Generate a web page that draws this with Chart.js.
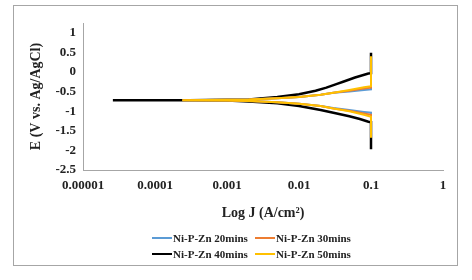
<!DOCTYPE html>
<html>
<head>
<meta charset="utf-8">
<script src="https://cdn.jsdelivr.net/npm/chart.js@4.4.0/dist/chart.umd.min.js"></script>
<style>
	body { margin: 0; background: #fff; }
	#wrap { position: relative; width: 472px; height: 280px; }
	#frame { position: absolute; left: 13px; top: 5px; width: 443px; height: 259px; border: 1px solid #a6a6a6; }
	canvas { position: absolute; left: 0; top: 0; }
	#legend { position: absolute; left: 152px; top: 232px; width: 230px; font: bold 11px "Liberation Serif", serif; color: #222; }
	.item { position: absolute; display: flex; align-items: center; white-space: nowrap; }
	.swatch { width: 20px; height: 2px; margin-right: 1px; }
</style>
</head>
<body>
<div id="wrap">
	<div id="frame"></div>
	<canvas id="chart" width="472" height="280"></canvas>
	<div id="legend"></div>
</div>
<script>
// series names and colours
const seriesNames = ['Ni-P-Zn 20mins', 'Ni-P-Zn 30mins', 'Ni-P-Zn 40mins', 'Ni-P-Zn 50mins'];
const seriesColors = ['#5b9bd5', '#ed7d31', '#000000', '#ffc000'];

// current density J (A/cm2) and potential E (V), in scan order
const j20 = [0.1, 0.1, 0.08, 0.05, 0.03, 0.02, 0.01, 0.005, 0.002, 0.001, 0.00024, 0.001, 0.002, 0.005, 0.01, 0.02, 0.03, 0.05, 0.08, 0.1, 0.1];
const e20 = [-1.6, -1.04, -1.02, -0.97, -0.92, -0.87, -0.81, -0.77, -0.74, -0.73, -0.72, -0.71, -0.7, -0.67, -0.64, -0.58, -0.53, -0.5, -0.46, -0.44, 0.3];

const j30 = [0.1, 0.1, 0.08, 0.05, 0.03, 0.02, 0.01, 0.005, 0.002, 0.001, 0.00024, 0.001, 0.002, 0.005, 0.01, 0.02, 0.03, 0.05, 0.08, 0.1, 0.1];
const e30 = [-1.63, -1.09, -1.06, -0.99, -0.93, -0.87, -0.81, -0.77, -0.74, -0.73, -0.72, -0.71, -0.7, -0.67, -0.64, -0.58, -0.53, -0.48, -0.42, -0.4, 0.35];

const j40 = [0.1, 0.1, 0.092, 0.07, 0.05, 0.03, 0.02, 0.01, 0.005, 0.002, 0.001, 0.0003, 0.000026, 0.0003, 0.001, 0.002, 0.005, 0.01, 0.017, 0.024, 0.033, 0.041, 0.06, 0.092, 0.1, 0.1];
const e40 = [-1.97, -1.28, -1.27, -1.2, -1.13, -1.04, -0.97, -0.87, -0.8, -0.75, -0.73, -0.72, -0.72, -0.72, -0.71, -0.7, -0.64, -0.57, -0.48, -0.4, -0.31, -0.25, -0.14, -0.04, -0.03, 0.49];

const j50 = [0.1, 0.1, 0.08, 0.05, 0.03, 0.02, 0.01, 0.005, 0.002, 0.001, 0.00024, 0.001, 0.002, 0.005, 0.01, 0.02, 0.03, 0.05, 0.08, 0.1, 0.1];
const e50 = [-1.68, -1.14, -1.09, -1.0, -0.93, -0.87, -0.81, -0.77, -0.74, -0.73, -0.72, -0.71, -0.7, -0.67, -0.64, -0.58, -0.53, -0.46, -0.39, -0.36, 0.4];

// axis ticks
const xTicks = [0.00001, 0.0001, 0.001, 0.01, 0.1, 1];
const xTickLabels = ['0.00001', '0.0001', '0.001', '0.01', '0.1', '1'];
const yTicks = [-2.5, -2, -1.5, -1, -0.5, 0, 0.5, 1];

const jSeries = [j20, j30, j40, j50];
const eSeries = [e20, e30, e40, e50];
// drawing order: yellow on top, black underneath
const drawOrder = [2, 1, 3, 0];

const datasets = seriesNames.map((name, i) => ({
	label: name,
	data: jSeries[i].map((j, k) => ({ x: j, y: eSeries[i][k] })),
	borderColor: seriesColors[i],
	backgroundColor: seriesColors[i],
	borderWidth: i === 2 ? 2.5 : 2,
	pointRadius: 0,
	showLine: true,
	tension: 0,
	order: drawOrder[i]
}));

const tickFont = { family: '"Liberation Serif", serif', size: 13, weight: 'bold' };

new Chart(document.getElementById('chart'), {
	type: 'scatter',
	data: { datasets: datasets },
	options: {
		responsive: false,
		animation: false,
		layout: { padding: { left: 24, right: 29, top: 23, bottom: 54 } },
		plugins: {
			legend: { display: false },
			tooltip: { enabled: false }
		},
		scales: {
			x: {
				type: 'logarithmic',
				min: 0.00001,
				max: 1,
				afterBuildTicks: scale => { scale.ticks = xTicks.map(v => ({ value: v })); },
				afterFit: scale => { scale.height = 56; },
				ticks: {
					autoSkip: false,
					maxRotation: 0,
					padding: 8,
					color: '#222',
					font: tickFont,
					callback: (v) => xTickLabels[xTicks.indexOf(v)]
				},
				grid: { display: false, drawTicks: false },
				border: { color: '#a6a6a6', width: 1 },
				title: {
					display: true,
					text: 'Log J (A/cm²)',
					color: '#222',
					font: { family: '"Liberation Serif", serif', size: 14, weight: 'bold' }
				}
			},
			y: {
				min: -2.5,
				max: 1.25,
				afterBuildTicks: scale => { scale.ticks = yTicks.map(v => ({ value: v })); },
				afterFit: scale => { scale.width = 59; },
				ticks: {
					padding: 7,
					color: '#222',
					font: tickFont,
					callback: (v) => String(v)
				},
				grid: { display: false, drawTicks: false },
				border: { color: '#a6a6a6', width: 1 },
				title: {
					display: true,
					text: 'E (V vs. Ag/AgCl)',
					color: '#222',
					font: { family: '"Liberation Serif", serif', size: 14, weight: 'bold' }
				}
			}
		}
	}
});

// legend in two rows of two, like the original
const legend = document.getElementById('legend');
seriesNames.forEach((name, i) => {
	const item = document.createElement('div');
	item.className = 'item';
	item.style.left = (i % 2) * 103 + 'px';
	item.style.top = Math.floor(i / 2) * 16 + 'px';
	item.innerHTML = '<span class="swatch" style="background:' + seriesColors[i] + '"></span>' + name;
	legend.appendChild(item);
});
</script>
</body>
</html>
